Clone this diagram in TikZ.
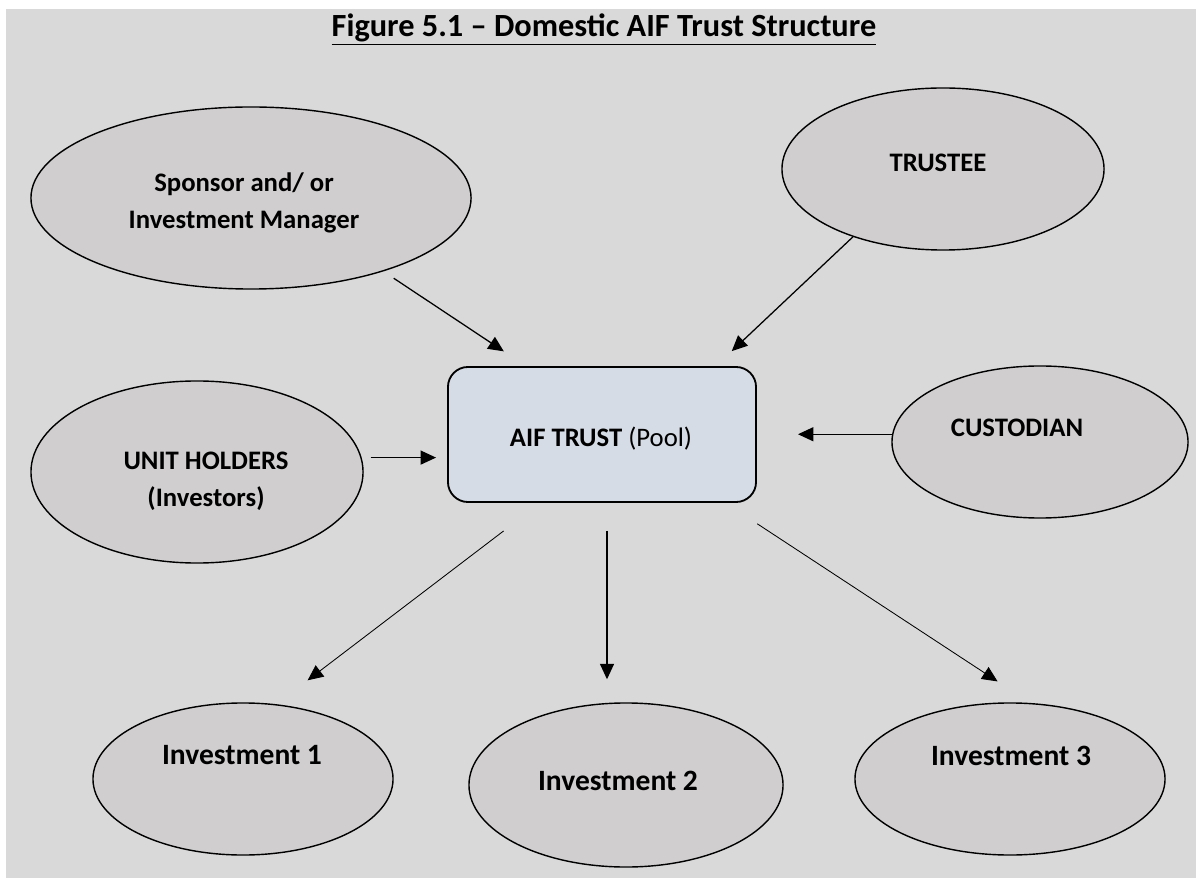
\documentclass[tikz,border=0pt]{standalone}
\usepackage{fontspec}
\setmainfont{Carlito}
\usetikzlibrary{arrows.meta,shapes.geometric}
\definecolor{pagegray}{HTML}{D9D9D9}
\definecolor{bubblegray}{HTML}{D0CECE}
\definecolor{poolblue}{HTML}{D6DCE5}

\begin{document}
\begin{tikzpicture}[x=0.025cm,y=-0.025cm]
		\useasboundingbox (0,0) rectangle (1196,878);
		\fill[pagegray] (6,9) rectangle (1196,878);
		\node[anchor=base,inner sep=0pt] (title) at (604,37) {\fontsize{23}{27}\selectfont\bfseries\underline{Figure 5.1 – Domestic AIF Trust Structure}};
		
		\begin{scope}[every node/.style={ellipse,draw,fill=bubblegray,line width=1pt,inner sep=0pt}]
			\node[minimum width=11cm,minimum height=4.55cm] (SP) at (251,198) {};
			\node[minimum width=8.05cm,minimum height=4.05cm] (TR) at (943,169) {};
			\node[minimum width=8.3cm,minimum height=4.55cm] (UH) at (197,472) {};
			\node[minimum width=7.4cm,minimum height=3.8cm] (CU) at (1040,442) {};
			\node[minimum width=7.5cm,minimum height=3.8cm] (I1) at (243,779) {};
			\node[minimum width=7.85cm,minimum height=4.1cm] (I2) at (626,785) {};
			\node[minimum width=7.75cm,minimum height=3.8cm] (I3) at (1010,779) {};
		\end{scope}
		\node[draw,rounded corners=0.5cm,fill=poolblue,line width=1.3pt,minimum width=7.7cm,minimum height=3.375cm] (B) at (602,434.5) {};
		
		\tikzstyle{txt} = [font=\fontsize{19}{26}\selectfont\bfseries,align=center,inner sep=0pt]
		\tikzstyle{bigtxt} = [font=\fontsize{21}{26}\selectfont\bfseries,anchor=base,inner sep=0pt]
		\node[txt] (SPt) at (244,203) {Sponsor and/ or\\Investment Manager};
		\node[txt,anchor=base] (TRt) at (938,172) {TRUSTEE};
		\node[txt] (UHt) at (206,481) {UNIT HOLDERS\\(Investors)};
		\node[txt,anchor=base] (CUt) at (1017,437) {CUSTODIAN};
		\node[txt,anchor=base] (Bt) at (601,447) {AIF TRUST \textmd{(Pool)}};
		\node[bigtxt] (I1t) at (242,764) {Investment 1};
		\node[bigtxt] (I2t) at (618,790) {Investment 2};
		\node[bigtxt] (I3t) at (1011,765) {Investment 3};
		
		\tikzstyle{arrow} = [line width=0.9pt,-{Triangle[length=11pt,width=10pt]},color=black]
		\draw [arrow,shorten <=0.31cm,shorten >=0.665cm] (SP.-29) -- (B.138);
		\draw [arrow,shorten >=0.545cm] (TR.217) -- (B.31);
		\draw [arrow,shorten <=0.225cm,shorten >=0.275cm] (UH.5) -- (UH.5 -| B.west);
		\draw [arrow,shorten >=1.025cm] (CU.177) -- (CU.177 -| B.east);
		\draw [arrow,shorten <=0.7cm,shorten >=0.575cm] ([xshift=0.125cm]B.south) -- ([xshift=0.125cm]B.south |- I2.north);
		
		\tikzstyle{arrow} = [line width=0.6pt,-{Triangle[length=11pt,width=10pt]},color=black]
		\draw [arrow,shorten <=1.155cm,shorten >=0.985cm] (B.228) -- (I1.66);
		\draw [arrow,shorten <=0.95cm,shorten >=0.98cm] (B.-29) -- (I3.75);
		
	\end{tikzpicture}
\end{document}
